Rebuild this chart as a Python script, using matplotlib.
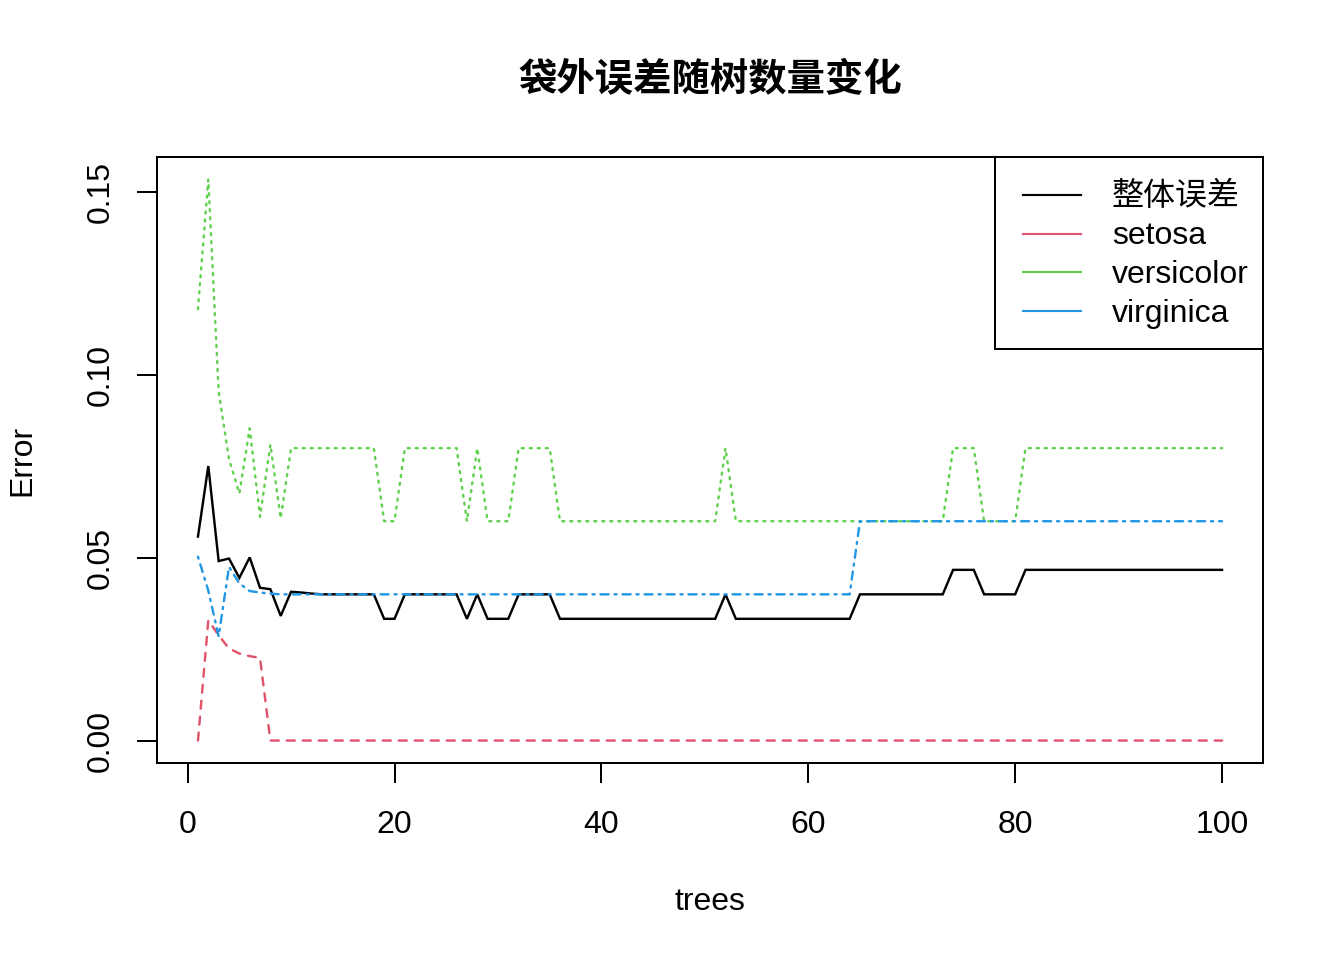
import matplotlib
matplotlib.use("Agg")
import matplotlib.pyplot as plt
from matplotlib.lines import Line2D
from matplotlib.legend_handler import HandlerBase

plt.rcParams['font.family'] = ['Liberation Sans', 'Noto Sans CJK SC', 'DejaVu Sans']

trees = list(range(1, 101))

overall = [
    0.0558, 0.0751, 0.0491, 0.0498, 0.0445, 0.0501, 0.0418, 0.0414, 0.0341, 0.0407,
    0.0405, 0.0402, 0.0400, 0.0400, 0.0400, 0.0400, 0.0400, 0.0400, 0.0333, 0.0333,
    0.0400, 0.0400, 0.0400, 0.0400, 0.0400, 0.0400, 0.0333, 0.0400, 0.0333, 0.0333,
    0.0333, 0.0400, 0.0400, 0.0400, 0.0400, 0.0333, 0.0333, 0.0333, 0.0333, 0.0333,
    0.0333, 0.0333, 0.0333, 0.0333, 0.0333, 0.0333, 0.0333, 0.0333, 0.0333, 0.0333,
    0.0333, 0.0400, 0.0333, 0.0333, 0.0333, 0.0333, 0.0333, 0.0333, 0.0333, 0.0333,
    0.0333, 0.0333, 0.0333, 0.0333, 0.0400, 0.0400, 0.0400, 0.0400, 0.0400, 0.0400,
    0.0400, 0.0400, 0.0400, 0.0467, 0.0467, 0.0467, 0.0400, 0.0400, 0.0400, 0.0400,
    0.0467, 0.0467, 0.0467, 0.0467, 0.0467, 0.0467, 0.0467, 0.0467, 0.0467, 0.0467,
    0.0467, 0.0467, 0.0467, 0.0467, 0.0467, 0.0467, 0.0467, 0.0467, 0.0467, 0.0467,
]

setosa = [
    0.0, 0.0329, 0.0288, 0.0252, 0.0238, 0.0231, 0.0226, 0.0, 0.0, 0.0,
    0.0, 0.0, 0.0, 0.0, 0.0, 0.0, 0.0, 0.0, 0.0, 0.0,
    0.0, 0.0, 0.0, 0.0, 0.0, 0.0, 0.0, 0.0, 0.0, 0.0,
    0.0, 0.0, 0.0, 0.0, 0.0, 0.0, 0.0, 0.0, 0.0, 0.0,
    0.0, 0.0, 0.0, 0.0, 0.0, 0.0, 0.0, 0.0, 0.0, 0.0,
    0.0, 0.0, 0.0, 0.0, 0.0, 0.0, 0.0, 0.0, 0.0, 0.0,
    0.0, 0.0, 0.0, 0.0, 0.0, 0.0, 0.0, 0.0, 0.0, 0.0,
    0.0, 0.0, 0.0, 0.0, 0.0, 0.0, 0.0, 0.0, 0.0, 0.0,
    0.0, 0.0, 0.0, 0.0, 0.0, 0.0, 0.0, 0.0, 0.0, 0.0,
    0.0, 0.0, 0.0, 0.0, 0.0, 0.0, 0.0, 0.0, 0.0, 0.0,
]

versicolor = [
    0.118, 0.1535, 0.0955, 0.077, 0.0676, 0.0854, 0.0612, 0.081, 0.0608, 0.08,
    0.08, 0.08, 0.08, 0.08, 0.08, 0.08, 0.08, 0.08, 0.06, 0.06,
    0.08, 0.08, 0.08, 0.08, 0.08, 0.08, 0.06, 0.08, 0.06, 0.06,
    0.06, 0.08, 0.08, 0.08, 0.08, 0.06, 0.06, 0.06, 0.06, 0.06,
    0.06, 0.06, 0.06, 0.06, 0.06, 0.06, 0.06, 0.06, 0.06, 0.06,
    0.06, 0.08, 0.06, 0.06, 0.06, 0.06, 0.06, 0.06, 0.06, 0.06,
    0.06, 0.06, 0.06, 0.06, 0.06, 0.06, 0.06, 0.06, 0.06, 0.06,
    0.06, 0.06, 0.06, 0.08, 0.08, 0.08, 0.06, 0.06, 0.06, 0.06,
    0.08, 0.08, 0.08, 0.08, 0.08, 0.08, 0.08, 0.08, 0.08, 0.08,
    0.08, 0.08, 0.08, 0.08, 0.08, 0.08, 0.08, 0.08, 0.08, 0.08,
]

virginica = [
    0.0503, 0.041, 0.0285, 0.0475, 0.043, 0.0409, 0.0405, 0.0402, 0.04, 0.04,
    0.04, 0.04, 0.04, 0.04, 0.04, 0.04, 0.04, 0.04, 0.04, 0.04,
    0.04, 0.04, 0.04, 0.04, 0.04, 0.04, 0.04, 0.04, 0.04, 0.04,
    0.04, 0.04, 0.04, 0.04, 0.04, 0.04, 0.04, 0.04, 0.04, 0.04,
    0.04, 0.04, 0.04, 0.04, 0.04, 0.04, 0.04, 0.04, 0.04, 0.04,
    0.04, 0.04, 0.04, 0.04, 0.04, 0.04, 0.04, 0.04, 0.04, 0.04,
    0.04, 0.04, 0.04, 0.04, 0.06, 0.06, 0.06, 0.06, 0.06, 0.06,
    0.06, 0.06, 0.06, 0.06, 0.06, 0.06, 0.06, 0.06, 0.06, 0.06,
    0.06, 0.06, 0.06, 0.06, 0.06, 0.06, 0.06, 0.06, 0.06, 0.06,
    0.06, 0.06, 0.06, 0.06, 0.06, 0.06, 0.06, 0.06, 0.06, 0.06,
]

series_names = ["整体误差", "setosa", "versicolor", "virginica"]
series_colors = ["black", "#DF536B", "#61D04F", "#2297E6"]
series_dashes = [None, (4, 4), (1, 3), (1, 3, 4, 3)]

x_ticks = [0, 20, 40, 60, 80, 100]
y_ticks = [0.00, 0.05, 0.10, 0.15]
y_ticklabels = ["0.00", "0.05", "0.10", "0.15"]

W, H = 1344, 960
fig = plt.figure(figsize=(7, 5), dpi=192)
ax = fig.add_axes([157 / W, 1 - 763 / H, (1263 - 157) / W, (763 - 157) / H])

lw = 0.9
data = [overall, setosa, versicolor, virginica]
for vals, c, d in zip(data, series_colors, series_dashes):
    line, = ax.plot(trees, vals, color=c, lw=lw, solid_joinstyle='miter',
                    dash_capstyle='round')
    if d is not None:
        line.set_dashes([v * 0.75 / lw for v in d])

ymax = max(max(s) for s in data)
ymin = 0.0
xr = 99 * 0.04
yr = (ymax - ymin) * 0.04
ax.set_xlim(1 - xr, 100 + xr)
ax.set_ylim(ymin - yr, ymax + yr)

ax.set_xticks(x_ticks)
ax.set_xticklabels([str(t) for t in x_ticks])
ax.set_yticks(y_ticks)
ax.set_yticklabels(y_ticklabels, rotation=90, va='center')
ax.tick_params(axis='both', direction='out', length=7.5, width=0.75, labelsize=12, color='black')
ax.tick_params(axis='x', pad=10.3)
ax.tick_params(axis='y', pad=8)
for s in ax.spines.values():
    s.set_linewidth(0.75)
    s.set_color('black')


class OffsetLineHandler(HandlerBase):
    """Legend line drawn only in the right part of the handle box."""
    def __init__(self, frac_start, **kw):
        super().__init__(**kw)
        self.frac_start = frac_start

    def create_artists(self, legend, orig_handle, xdescent, ydescent,
                       width, height, fontsize, trans):
        x0 = -xdescent + width * self.frac_start
        x1 = -xdescent + width
        y = height / 2 - ydescent
        ln = Line2D([x0, x1], [y, y], color=orig_handle.get_color(),
                    lw=orig_handle.get_linewidth())
        ln.set_transform(trans)
        return [ln]


handles = [Line2D([0], [0], color=c, lw=0.8) for c in series_colors]
handler = OffsetLineHandler(14 / 72)
leg = ax.legend(handles, series_names, loc='upper right', borderaxespad=0,
                fancybox=False, frameon=True, edgecolor='black', fontsize=12,
                handlelength=72 / 32, handletextpad=0.95, borderpad=0.45,
                handleheight=1.85, labelspacing=-0.23, framealpha=1,
                handler_map={Line2D: handler})
leg.get_frame().set_linewidth(0.75)

fig.text(710 / W, 1 - 81 / H, "袋外误差随树数量变化", ha='center', va='center',
         fontsize=14.4, fontweight='bold')
fig.text(710 / W, 1 - 902 / H, "trees", ha='center', va='center', fontsize=12)
fig.text(22 / W, 1 - 460 / H, "Error", ha='center', va='center', fontsize=12, rotation=90)

fig.savefig("out.png", dpi=192)
